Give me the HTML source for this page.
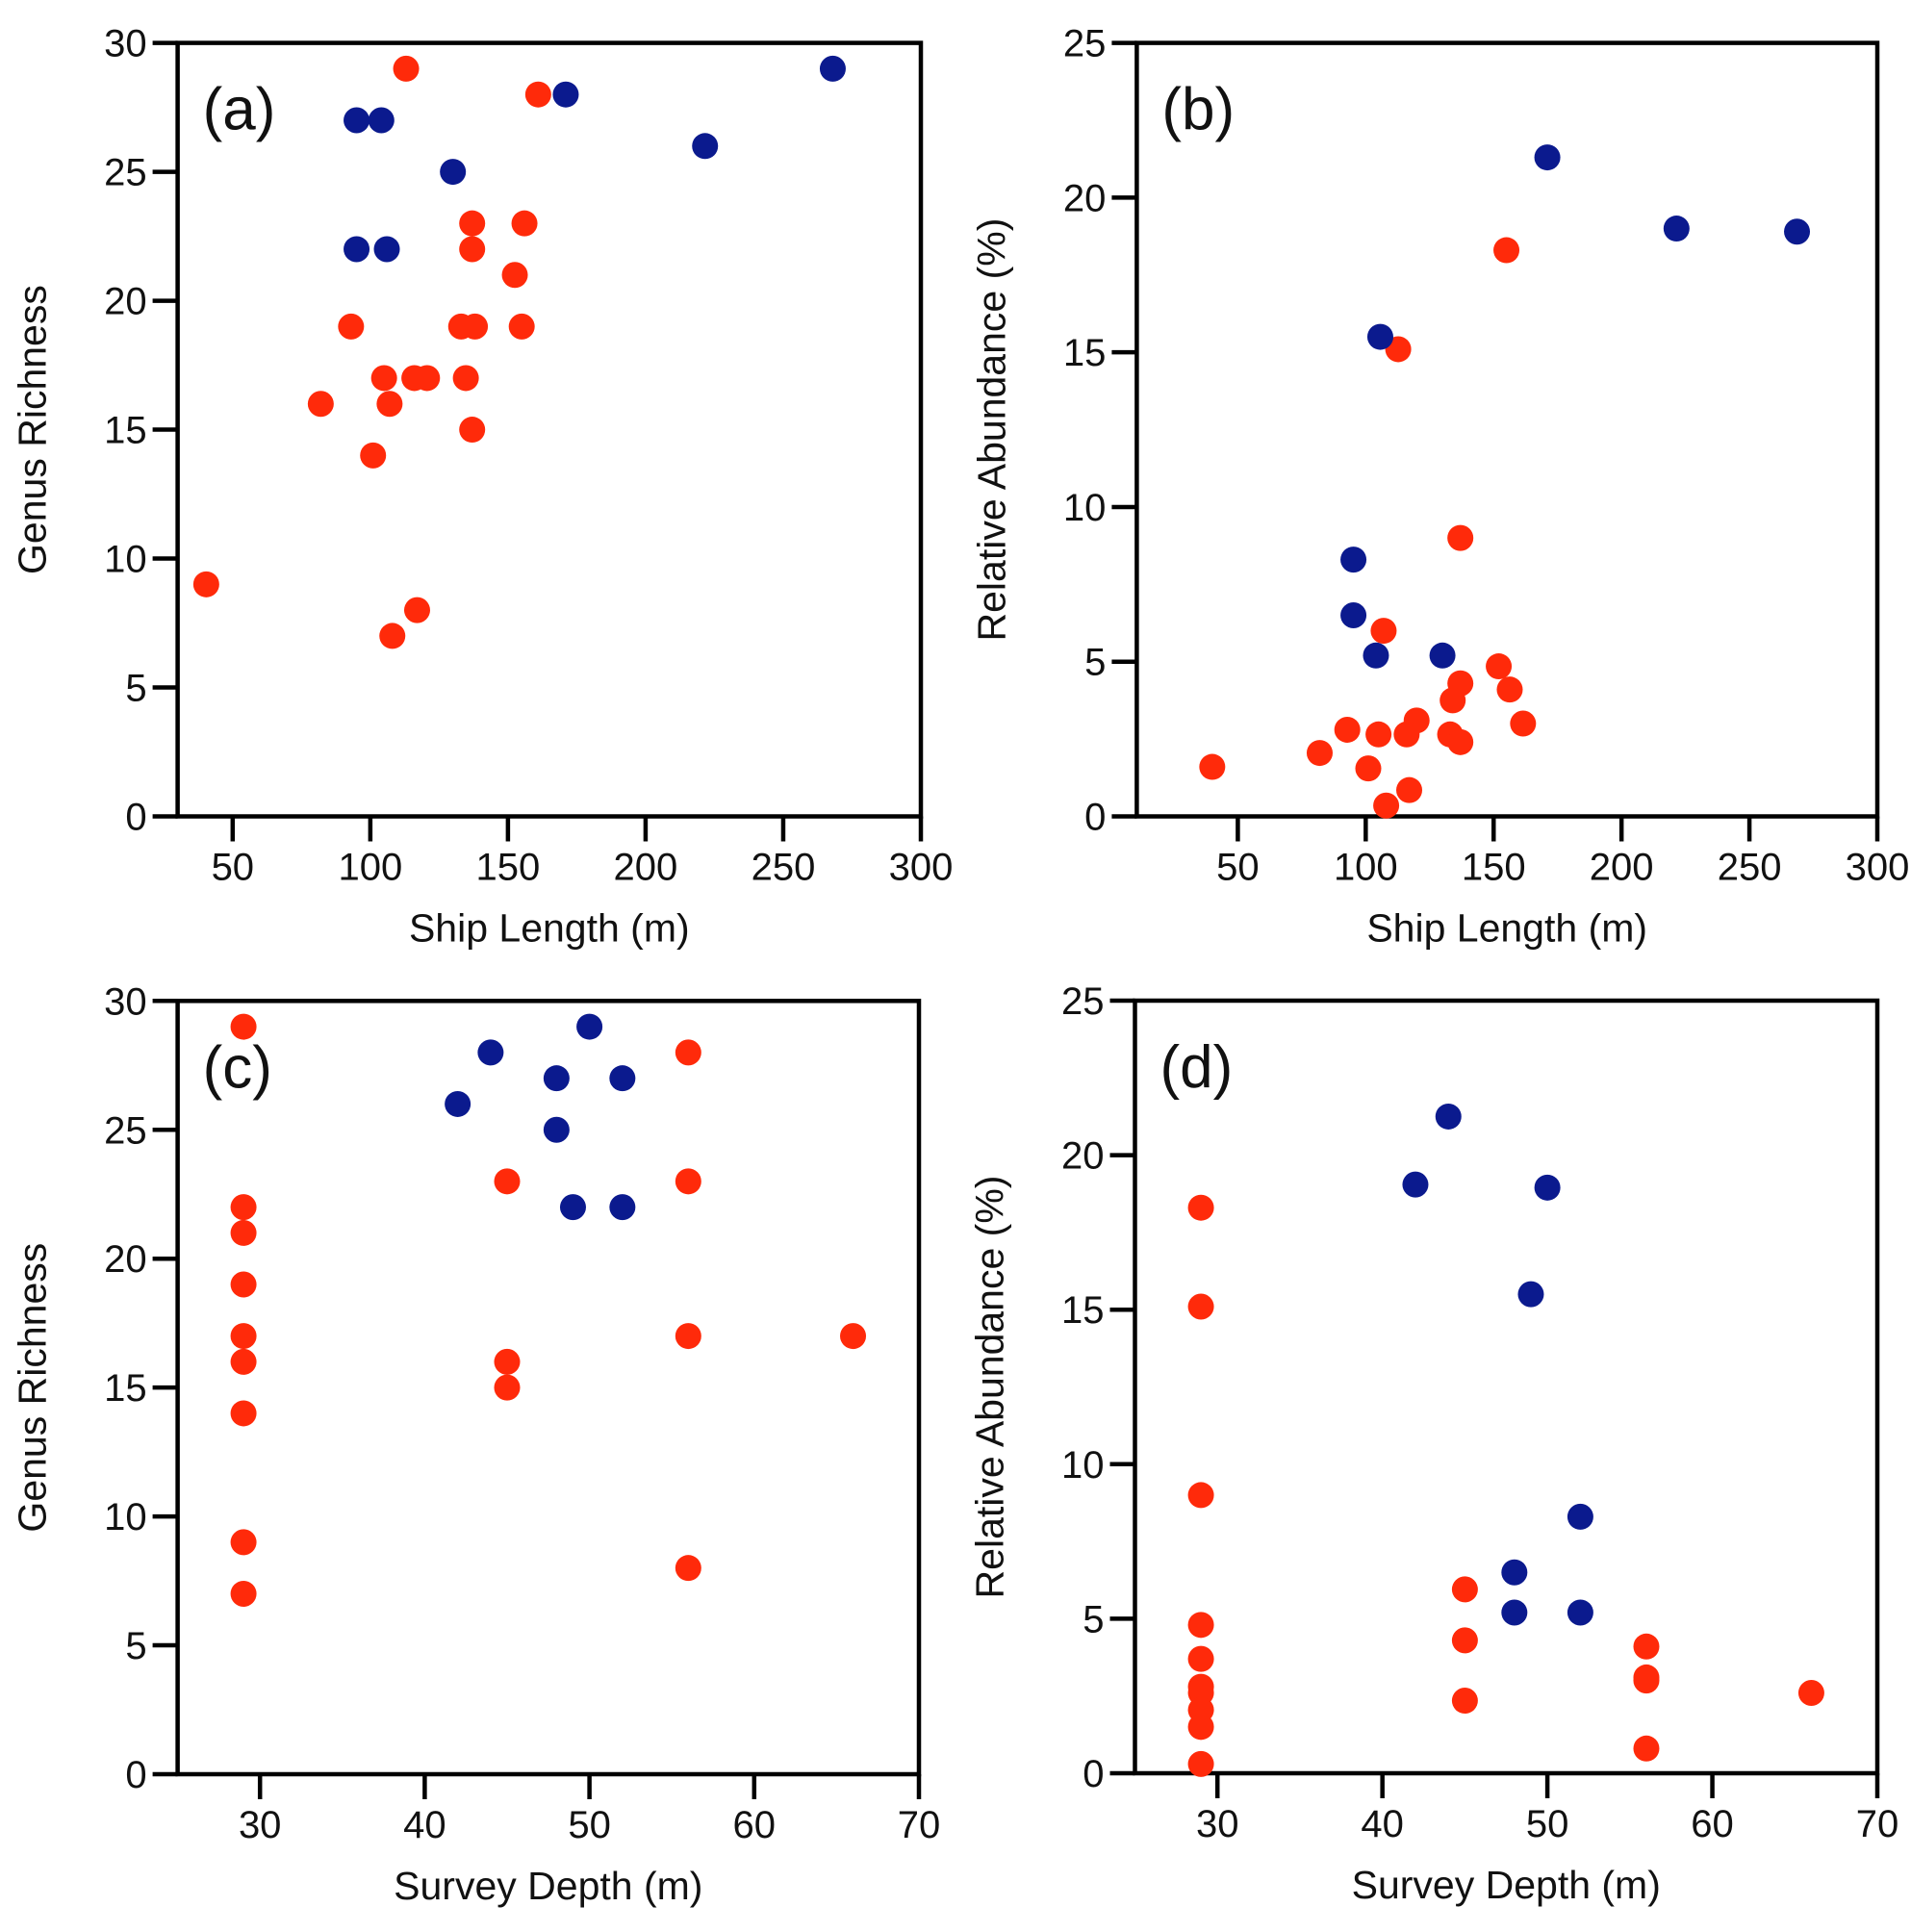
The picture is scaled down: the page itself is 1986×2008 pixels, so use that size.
<!DOCTYPE html>
<html><head><meta charset="utf-8"><style>
html,body{margin:0;padding:0;background:#fff;}
svg{display:block;font-family:"Liberation Sans",Arial,sans-serif;}
</style></head><body>
<svg id="fig" width="1986" height="2008" viewBox="0 0 1986 2008" xmlns="http://www.w3.org/2000/svg"></svg>
<script>
// Panel (a): Ship length vs genus richness
const aBlueX = [95,104,130,95,106,171,221.6,268];
const aBlueY = [27,27,25,22,22,28,26,29];
const aRedX = [113,161,137,156,137,152.5,93,133,138,155,105,116,120.6,134.7,82,107,137,101,40.4,117,108];
const aRedY = [29,28,23,23,22,21,19,19,19,19,17,17,17,17,16,16,15,14,9,8,7];
// Panel (b): Ship length vs relative abundance
const bBlueX = [171,221.5,268.6,105.7,95.2,95.2,104,130];
const bBlueY = [21.3,19.0,18.9,15.5,8.3,6.5,5.2,5.2];
const bRedX = [155,112.7,137,107,152,156.3,137,134,119.9,161.5,92.8,105,116,133,137,82,101,40,117,108];
const bRedY = [18.3,15.1,9.0,6.0,4.85,4.1,4.3,3.75,3.1,3.0,2.8,2.65,2.65,2.65,2.4,2.05,1.55,1.6,0.85,0.35];
// Panel (c): Survey depth vs genus richness
const cBlueX = [42,44,48,48,50,52,49,52];
const cBlueY = [26,28,27,25,29,27,22,22];
const cRedX = [29,29,29,29,29,29,29,29,29,45,45,45,56,56,56,56,66];
const cRedY = [29,22,21,19,17,16,14,9,7,23,16,15,28,23,17,8,17];
// Panel (d): Survey depth vs relative abundance
const dBlueX = [44,42,50,49,52,48,48,52];
const dBlueY = [21.25,19.05,18.95,15.5,8.3,6.5,5.2,5.2];
const dRedX = [29,29,29,29,29,29,29,29,29,29,45,45,45,56,56,56,56,66];
const dRedY = [18.3,15.1,9.0,4.8,3.7,2.8,2.6,2.05,1.5,0.3,5.95,4.3,2.35,4.1,3.1,3.0,0.8,2.6];
// Tick labels
const shipTicks = [50,100,150,200,250,300];
const depthTicks = [30,40,50,60,70];
const richTicks = [0,5,10,15,20,25,30];
const abundTicks = [0,5,10,15,20,25];

const NS = "http://www.w3.org/2000/svg";
const svg = document.getElementById('fig');
function mk(tag, attrs, parent){
  const e = document.createElementNS(NS, tag);
  for (const k in attrs) e.setAttribute(k, attrs[k]);
  parent.appendChild(e);
  return e;
}
const RED = '#ff2a0a', BLUE = '#0b1a8e';

function panel(id, L, R, T, B, xmin, xmax, ymin, ymax, xt, yt, xlabel, ylabel, lab, bx, by, rx, ry){
  const g = mk('g', {}, svg);
  
  
  const sx = v => L + (v - xmin) / (xmax - xmin) * (R - L);
  const sy = v => B - (v - ymin) / (ymax - ymin) * (B - T);
  const frame = mk('rect', {x:L, y:T, width:R-L, height:B-T, fill:'none', stroke:'#000', 'stroke-width':4.5}, g);
  
  
  xt.forEach(v => {
    const x = sx(v);
    const t = mk('line', {x1:x, x2:x, y1:B, y2:B+26, stroke:'#000', 'stroke-width':4.5}, g);
    
    
    const tx = mk('text', {x:x, y:B+66, 'font-size':40, 'text-anchor':'middle', fill:'#111'}, g);
    tx.textContent = v;
    
    
  });
  yt.forEach(v => {
    const y = sy(v);
    const t = mk('line', {x1:L-26, x2:L, y1:y, y2:y, stroke:'#000', 'stroke-width':4.5}, g);
    
    
    const tx = mk('text', {x:L-32, y:y+14, 'font-size':40, 'text-anchor':'end', fill:'#111'}, g);
    tx.textContent = v;
    
    
  });
  const xl = mk('text', {x:(L+R)/2, y:B+130, 'font-size':41, 'text-anchor':'middle', fill:'#111'}, g);
  xl.textContent = xlabel;
  
  
  const cy = (T+B)/2, cx = L - 137;
  const yl = mk('text', {x:cx, y:cy, 'font-size':41, 'text-anchor':'middle', fill:'#111', transform:'rotate(-90 '+cx+' '+cy+')'}, g);
  yl.textContent = ylabel;
  
  
  const pl = mk('text', {x:L+26, y:T+90, 'font-size':62, fill:'#111'}, g);
  pl.textContent = lab;
  
  
  rx.forEach((v, i) => {
    const c = mk('circle', {cx:sx(v), cy:sy(ry[i]), r:13.5, fill:RED}, g);
    
    
  });
  bx.forEach((v, i) => {
    const c = mk('circle', {cx:sx(v), cy:sy(by[i]), r:13.5, fill:BLUE}, g);
    
    
  });
}
panel('a', 184.6, 957, 44.6, 848.5, 30, 300, 0, 30, shipTicks, richTicks, 'Ship Length (m)', 'Genus Richness', '(a)', aBlueX, aBlueY, aRedX, aRedY);
panel('b', 1181.4, 1951, 44.6, 848.5, 10.5, 300, 0, 25, shipTicks, abundTicks, 'Ship Length (m)', 'Relative Abundance (%)', '(b)', bBlueX, bBlueY, bRedX, bRedY);
panel('c', 184.6, 955, 1040.3, 1844, 25, 70, 0, 30, depthTicks, richTicks, 'Survey Depth (m)', 'Genus Richness', '(c)', cBlueX, cBlueY, cRedX, cRedY);
panel('d', 1179.5, 1951, 1040, 1843, 25, 70, 0, 25, depthTicks, abundTicks, 'Survey Depth (m)', 'Relative Abundance (%)', '(d)', dBlueX, dBlueY, dRedX, dRedY);
</script>
</body></html>
